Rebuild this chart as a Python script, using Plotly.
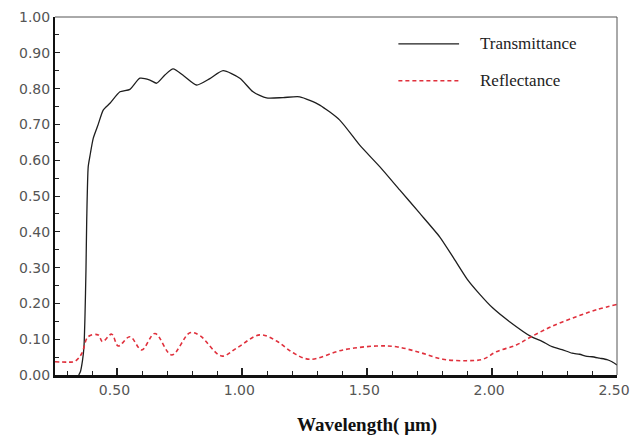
import plotly.graph_objects as go

# Transmittance spectrum (wavelength in micrometres)
trans_wl = [0.345, 0.352, 0.360, 0.366, 0.370, 0.374, 0.377, 0.383, 0.390, 0.403,
            0.423, 0.443, 0.470, 0.510, 0.550, 0.590, 0.630, 0.657, 0.690, 0.723,
            0.765, 0.817, 0.870, 0.923, 0.990, 1.043, 1.097, 1.163, 1.230, 1.310,
            1.390, 1.470, 1.550, 1.630, 1.710, 1.790, 1.843, 1.900, 1.950, 2.003,
            2.070, 2.157, 2.200, 2.240, 2.280, 2.320, 2.350, 2.380, 2.400, 2.430,
            2.460, 2.480, 2.500]
trans_val = [0.000, 0.010, 0.040, 0.079, 0.163, 0.293, 0.433, 0.582, 0.612, 0.661,
             0.700, 0.740, 0.759, 0.791, 0.798, 0.829, 0.824, 0.815, 0.838, 0.855,
             0.836, 0.810, 0.828, 0.850, 0.829, 0.791, 0.774, 0.775, 0.777, 0.754,
             0.712, 0.642, 0.582, 0.517, 0.452, 0.386, 0.330, 0.268, 0.226, 0.187,
             0.149, 0.107, 0.094, 0.079, 0.071, 0.061, 0.058, 0.052, 0.051, 0.047,
             0.043, 0.037, 0.028]

# Reflectance spectrum
refl_wl = [0.250, 0.300, 0.330, 0.357, 0.383, 0.423, 0.440, 0.477, 0.503, 0.550,
           0.597, 0.650, 0.717, 0.790, 0.830, 0.917, 0.977, 1.070, 1.137, 1.203,
           1.270, 1.403, 1.537, 1.617, 1.710, 1.803, 1.897, 1.963, 2.017, 2.097,
           2.157, 2.243, 2.337, 2.417, 2.500]
refl_val = [0.037, 0.036, 0.038, 0.060, 0.107, 0.112, 0.093, 0.114, 0.081, 0.107,
            0.070, 0.116, 0.056, 0.118, 0.110, 0.053, 0.075, 0.112, 0.095, 0.062,
            0.044, 0.070, 0.081, 0.079, 0.063, 0.044, 0.040, 0.044, 0.065, 0.084,
            0.107, 0.137, 0.163, 0.182, 0.197]

x_ticks = [0.50, 1.00, 1.50, 2.00, 2.50]
y_ticks = [0.0, 0.1, 0.2, 0.3, 0.4, 0.5, 0.6, 0.7, 0.8, 0.9, 1.0]

T_COLOR = "#1e1e1e"
R_COLOR = "#e0303c"

fig = go.Figure()
fig.add_trace(go.Scatter(x=trans_wl, y=trans_val, mode="lines", name="Transmittance",
                         line=dict(color=T_COLOR, width=1.3, shape="spline", smoothing=0.6)))
fig.add_trace(go.Scatter(x=refl_wl, y=refl_val, mode="lines", name="Reflectance",
                         line=dict(color=R_COLOR, width=1.6, dash="4px,3px",
                                   shape="spline", smoothing=1.0)))

tick_font = dict(family="DejaVu Sans", size=14, color="#555555")

fig.update_layout(
    width=630, height=439,
    margin=dict(l=55, r=13, t=17, b=64),
    paper_bgcolor="white", plot_bgcolor="white",
    showlegend=False,
    xaxis=dict(range=[0.25, 2.5], tickmode="array", tickvals=x_ticks,
               ticktext=[f"{v:.2f}" for v in x_ticks], ticklabeloverflow="allow",
               automargin=False, ticklabelshift=-3,
               ticks="inside", ticklen=7, tickwidth=1.5, tickcolor="#222",
               minor=dict(ticks="inside", ticklen=4, tickwidth=1.3, tickcolor="#222",
                          dtick=0.1),
               showline=True, linecolor="#111", linewidth=2.5, showgrid=False,
               zeroline=False, tickfont=tick_font),
    yaxis=dict(range=[0, 1.0], tickmode="array", tickvals=y_ticks,
               ticktext=[f"{v:.2f}" for v in y_ticks], automargin=False,
               ticks="inside", ticklen=5, tickwidth=1.3, tickcolor="#222",
               minor=dict(ticks="inside", ticklen=4, tickwidth=1.2, tickcolor="#222",
                          dtick=0.05),
               showline=True, linecolor="#111", linewidth=2, showgrid=False,
               zeroline=False, tickfont=tick_font),
)

# Thin frame on top and right
fig.add_shape(type="line", xref="x domain", yref="y domain", x0=0, x1=1, y0=1, y1=1,
              line=dict(color="#555", width=1))
fig.add_shape(type="line", xref="x domain", yref="y domain", x0=1, x1=1, y0=0, y1=1,
              line=dict(color="#555", width=1))

# Legend drawn inside the plot
legend_items = [("Transmittance", T_COLOR, "solid", 1.3, 0.925),
                ("Reflectance", R_COLOR, "4px,3px", 1.6, 0.822)]
for label, color, dash, w, yy in legend_items:
    fig.add_shape(type="line", xref="x domain", yref="y domain", x0=0.611, x1=0.719,
                  y0=yy, y1=yy, line=dict(color=color, width=w, dash=dash))
    fig.add_annotation(text=label, xref="x domain", yref="y domain", x=0.753, y=yy,
                       xanchor="left", yanchor="middle", showarrow=False,
                       font=dict(family="Liberation Serif", size=17, color="#222"))

fig.add_annotation(text="<b>Wavelength( μm)</b>", xref="paper", yref="paper",
                   x=(367 - 55) / 562, y=-50 / 358, xanchor="center", yanchor="middle",
                   showarrow=False, font=dict(family="Liberation Serif", size=19, color="#111"))

fig.write_html("out.html")
